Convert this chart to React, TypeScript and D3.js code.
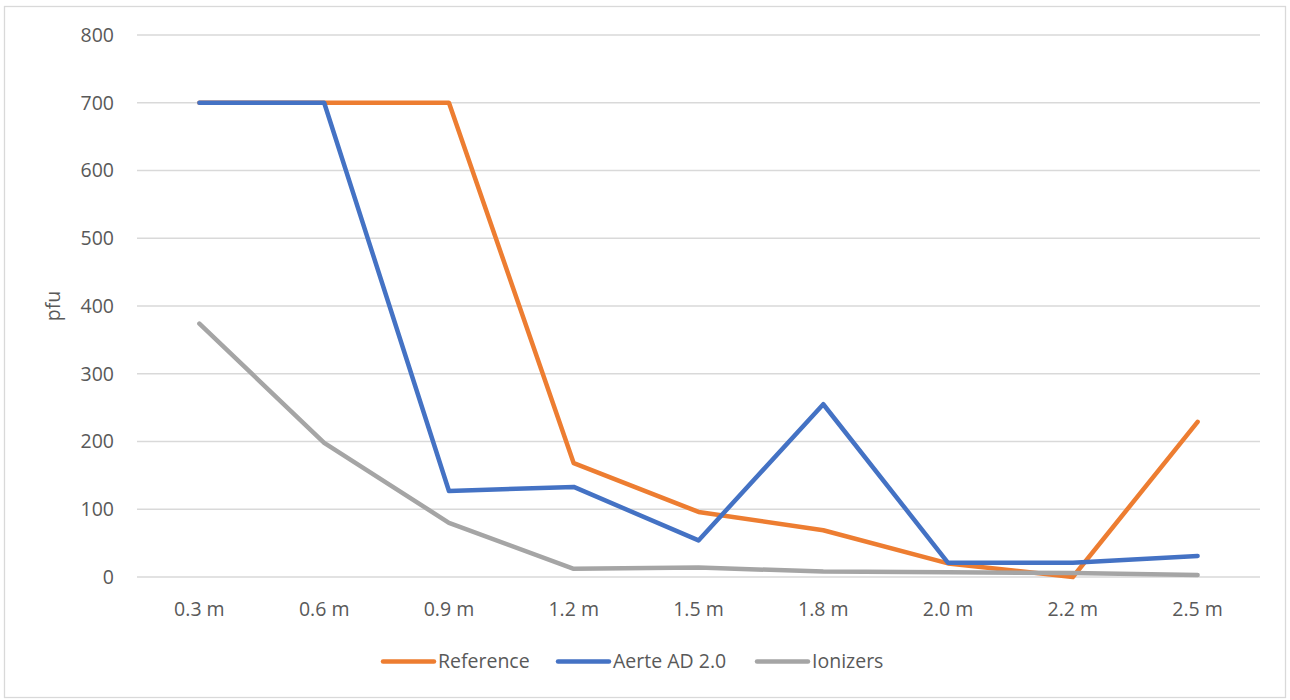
import React from "react";
import * as d3 from "d3";

// Distance from the source and the measured plaque-forming units per device
const categories: string[] = ["0.3 m", "0.6 m", "0.9 m", "1.2 m", "1.5 m", "1.8 m", "2.0 m", "2.2 m", "2.5 m"];
const referenceValues: number[] = [700, 700, 700, 168, 96, 69, 20, 0, 229];
const aerteValues: number[] = [700, 700, 127, 133, 54, 255, 21, 21, 31];
const ionizerValues: number[] = [374, 198, 80, 12, 14, 8, 7, 6, 3];
const yTicks: number[] = [0, 100, 200, 300, 400, 500, 600, 700, 800];

const seriesNames: string[] = ["Reference", "Aerte AD 2.0", "Ionizers"];
const seriesColors: string[] = ["#ED7D31", "#4472C4", "#A5A5A5"];

const W = 1290;
const H = 700;
const FONT = "'Open Sans', 'Liberation Sans', sans-serif";
const TEXT = "#595959";

export default function App() {
  const x = d3.scaleBand<string>().domain(categories).range([137, 1260]);
  const y = d3.scaleLinear().domain([0, 800]).range([577, 35]);
  const cx = (c: string) => (x(c) as number) + x.bandwidth() / 2;

  const line = d3
    .line<number>()
    .x((_, i) => cx(categories[i]))
    .y((v) => y(v));

  const series = [referenceValues, aerteValues, ionizerValues];

  // legend layout: swatch, then label
  const legendItems = [
    { x0: 383, tx: 438 },
    { x0: 558, tx: 613 },
    { x0: 757, tx: 812 },
  ];

  return (
    <svg
      width={W}
      height={H}
      style={{ position: "absolute", left: 0, top: 0, background: "#fff" }}
      fontFamily={FONT}
    >
      <rect x={4.5} y={6.5} width={1281} height={691} fill="#fff" stroke="#D9D9D9" strokeWidth={1.3} />

      {/* horizontal gridlines and value labels */}
      {yTicks.map((t) => (
        <g key={t}>
          <line x1={137} x2={1260} y1={y(t)} y2={y(t)} stroke="#D9D9D9" strokeWidth={1.4} />
          <text x={114} y={y(t)} dy="0.35em" textAnchor="end" fontSize={19.5} fill={TEXT}>
            {t}
          </text>
        </g>
      ))}

      {/* category labels */}
      {categories.map((c) => (
        <text key={c} x={cx(c)} y={609} dy="0.35em" textAnchor="middle" fontSize={19.5} fill={TEXT}>
          {c}
        </text>
      ))}

      <text
        transform={`translate(60, ${(y(0) + y(800)) / 2}) rotate(-90)`}
        textAnchor="middle"
        fontSize={19.5}
        fill={TEXT}
      >
        pfu
      </text>

      {series.map((vals, i) => (
        <path
          key={seriesNames[i]}
          d={line(vals) || ""}
          fill="none"
          stroke={seriesColors[i]}
          strokeWidth={4.5}
          strokeLinejoin="round"
          strokeLinecap="round"
        />
      ))}

      {/* legend */}
      {seriesNames.map((n, i) => (
        <g key={n}>
          <line
            x1={legendItems[i].x0}
            x2={legendItems[i].x0 + 51}
            y1={661.5}
            y2={661.5}
            stroke={seriesColors[i]}
            strokeWidth={4.5}
            strokeLinecap="round"
          />
          <text x={legendItems[i].tx} y={661.5} dy="0.35em" fontSize={19.5} fill={TEXT}>
            {n}
          </text>
        </g>
      ))}
    </svg>
  );
}
